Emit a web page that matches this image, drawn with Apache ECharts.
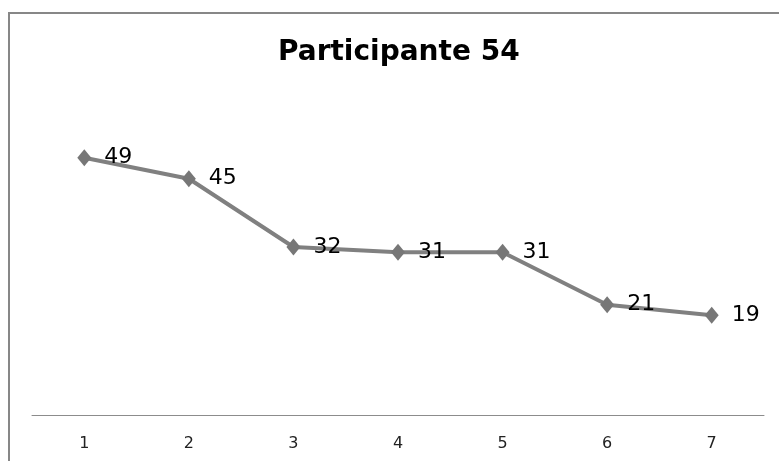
<!DOCTYPE html>
<html>
<head>
<meta charset="utf-8">
<script src="https://cdn.jsdelivr.net/npm/echarts@6/dist/echarts.min.js"></script>
<style>
  html, body { margin: 0; padding: 0; background: #fff; }
  #chart { width: 779px; height: 461px; }
</style>
</head>
<body>
<div id="chart"></div>
<script>
// Sessions and scores for participant 54
const sessions = ['1', '2', '3', '4', '5', '6', '7'];
const scores = [49, 45, 32, 31, 31, 21, 19];
const chartTitle = 'Participante 54';

const chart = echarts.init(document.getElementById('chart'));

chart.setOption({
  animation: false,
  backgroundColor: '#ffffff',
  title: {
    text: chartTitle,
    left: 273,
    top: 34,
    textStyle: {
      fontFamily: 'DejaVu Sans',
      fontWeight: 'bold',
      fontSize: 28,
      color: '#000000'
    }
  },
  graphic: [{
    type: 'rect',
    shape: { x: 9, y: 13, width: 800, height: 500 },
    style: { fill: 'none', stroke: '#878787', lineWidth: 2 },
    silent: true
  }],
  grid: { left: 32, right: 15, top: 100, bottom: 46 },
  xAxis: {
    type: 'category',
    data: sessions,
    boundaryGap: true,
    axisLine: { lineStyle: { color: '#8c8c8c', width: 1 } },
    axisTick: { show: false },
    axisLabel: {
      margin: 21,
      fontFamily: 'DejaVu Sans',
      fontSize: 16,
      color: '#222222'
    }
  },
  yAxis: {
    type: 'value',
    min: 0,
    max: 60,
    show: false,
    splitLine: { show: false }
  },
  series: [{
    type: 'line',
    data: scores,
    symbol: 'path://M0,-1L1,0L0,1L-1,0Z',
    symbolSize: [14, 17],
    itemStyle: { color: '#777777' },
    lineStyle: { color: '#808080', width: 4 },
    z: 2,
    label: {
      show: true,
      position: 'right',
      distance: 13,
      fontFamily: 'DejaVu Sans',
      fontSize: 22,
      color: '#000000'
    }
  }]
});
</script>
</body>
</html>
